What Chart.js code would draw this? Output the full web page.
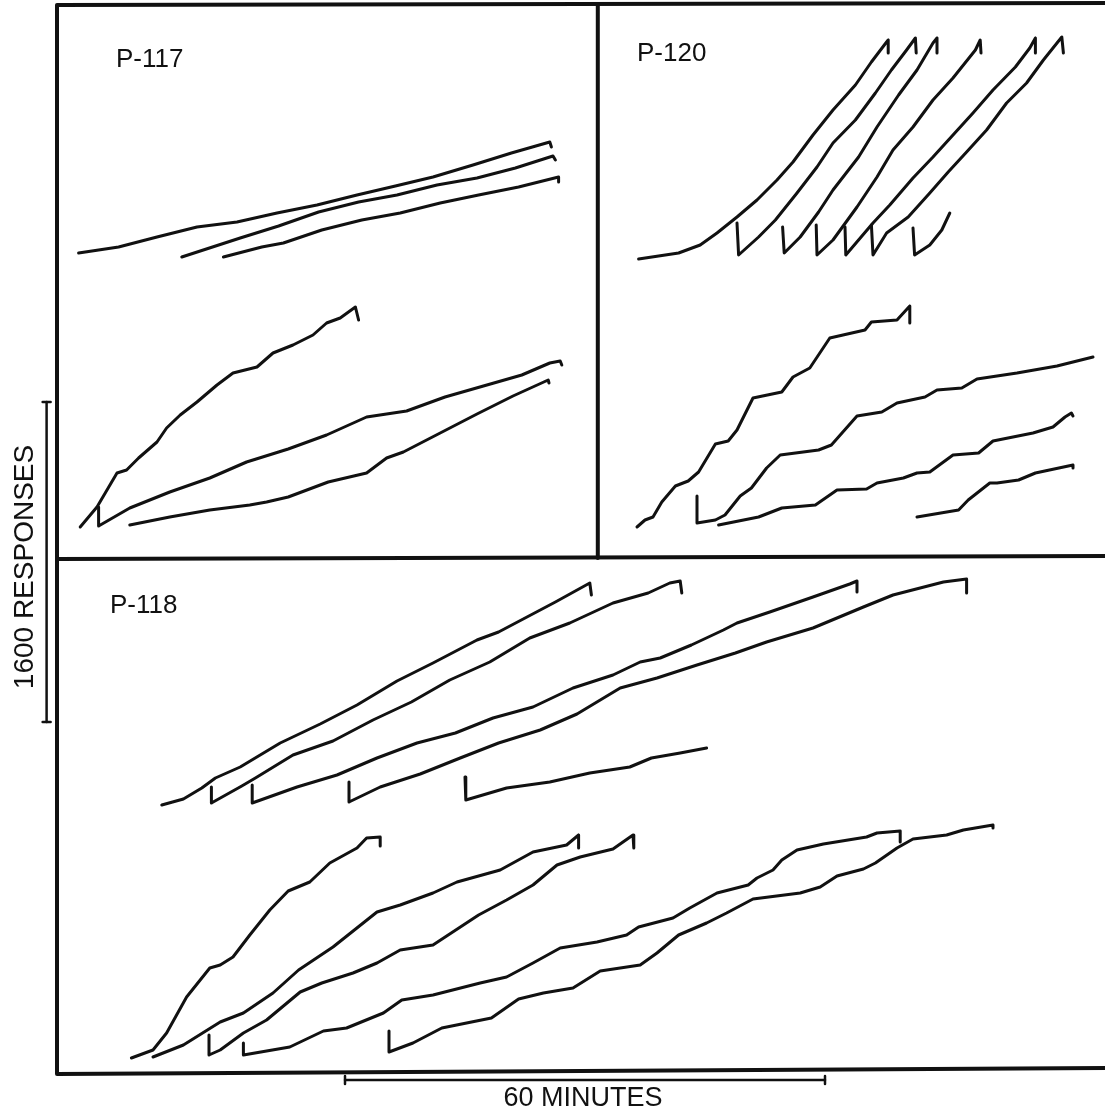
<!DOCTYPE html>
<html>
<head>
<meta charset="utf-8">
<title>Cumulative records P-117, P-120, P-118</title>
<script src="https://cdn.jsdelivr.net/npm/chart.js@4.4.1/dist/chart.umd.min.js"></script>
<style>
  html, body { margin: 0; padding: 0; background: #fff; }
  #wrap { position: relative; width: 1105px; height: 1111px; }
</style>
</head>
<body>
<div id="wrap"><canvas id="myChart"></canvas></div>
<script>
// every point is [minutes, cumulative responses]

// P-117, upper three records
const p117a = [[2.7,4100],[7.7,4130],[12.5,4180],[17.5,4230],[22.5,4255],[27.5,4300],[32.5,4340],[37.5,4390],[42.3,4435],[47.0,4480],[52.0,4540],[56.8,4600],[61.6,4655],[61.8,4630]];
const p117b = [[15.6,4080],[22.9,4175],[27.7,4235],[32.7,4305],[37.7,4355],[42.5,4390],[47.5,4440],[52.5,4475],[57.3,4525],[62.0,4585],[62.3,4565]];
const p117c = [[20.8,4080],[25.6,4130],[28.3,4150],[33.1,4215],[38.1,4265],[42.9,4300],[47.9,4350],[52.7,4390],[57.7,4430],[62.7,4480],[62.7,4455]];
// P-117, lower three records
const p117d = [[2.9,2730],[5.0,2830],[7.5,3000],[8.7,3015],[10.2,3075],[12.5,3155],[13.7,3225],[15.4,3290],[17.5,3355],[20.0,3440],[22.0,3500],[25.0,3530],[27.0,3600],[29.5,3640],[32.0,3690],[33.7,3750],[35.4,3775],[37.3,3830],[37.7,3765]];
const p117e = [[5.2,2830],[5.2,2735],[9.1,2825],[14.1,2905],[19.1,2975],[23.7,3055],[28.9,3120],[33.7,3190],[38.7,3280],[43.7,3310],[48.5,3380],[53.3,3435],[58.1,3490],[61.6,3550],[62.9,3560],[63.1,3540]];
const p117f = [[9.1,2740],[14.1,2780],[19.1,2815],[24.1,2840],[26.2,2855],[28.9,2880],[33.9,2955],[38.7,3000],[41.2,3075],[43.3,3105],[47.9,3200],[52.5,3295],[57.0,3385],[61.4,3465],[61.5,3450]];

// P-120, upper records (one long run cut into segments)
const p120a = [[72.7,4070],[77.7,4100],[80.4,4140],[82.5,4200],[85.0,4280],[87.5,4365],[90.0,4465],[92.0,4555],[94.5,4690],[97.0,4815],[99.8,4940],[101.8,5055],[103.7,5155],[103.9,5165],[103.9,5100]];
const p120b = [[85.0,4250],[85.2,4090],[87.7,4180],[89.8,4265],[92.5,4400],[95.0,4530],[97.0,4650],[99.8,4765],[102.3,4900],[104.3,5015],[106.2,5115],[107.3,5175],[107.4,5100]];
const p120c = [[90.7,4230],[90.9,4100],[92.9,4180],[95.2,4305],[97.0,4415],[100.2,4580],[102.5,4730],[105.2,4890],[107.5,5015],[109.5,5150],[110.0,5175],[110.0,5100]];
const p120d = [[94.9,4240],[95.0,4090],[97.0,4165],[100.0,4330],[102.5,4480],[104.5,4615],[107.0,4730],[109.5,4865],[112.0,4975],[114.8,5115],[115.4,5165],[115.5,5100]];
const p120e = [[98.5,4230],[98.6,4090],[102.0,4250],[104.1,4340],[107.0,4475],[109.5,4580],[112.0,4690],[114.5,4800],[117.0,4915],[119.8,5030],[121.6,5125],[122.3,5175],[122.3,5100]];
const p120f = [[101.8,4240],[102.0,4090],[103.7,4200],[106.4,4280],[109.1,4400],[111.4,4505],[113.7,4605],[116.2,4715],[118.7,4850],[121.2,4950],[123.3,5065],[125.6,5180],[125.8,5100]];
const p120g = [[107.0,4225],[107.2,4090],[109.1,4140],[110.6,4215],[111.6,4300]];
// P-120, lower records
const p120h = [[72.5,2730],[73.5,2765],[74.5,2780],[75.6,2855],[77.3,2935],[78.9,2960],[80.2,3005],[82.3,3145],[83.9,3160],[85.0,3215],[87.0,3375],[90.6,3405],[92.0,3480],[94.1,3525],[96.6,3675],[101.0,3715],[101.8,3755],[105.0,3765],[106.6,3835],[106.6,3750]];
const p120i = [[80.0,2885],[80.0,2750],[82.3,2765],[83.5,2790],[85.4,2885],[86.8,2925],[88.7,3025],[90.4,3090],[95.2,3115],[96.8,3140],[100.0,3285],[103.1,3305],[105.0,3350],[108.5,3380],[110.0,3415],[113.1,3425],[115.0,3470],[120.0,3500],[125.0,3535],[129.5,3580]];
const p120j = [[82.7,2740],[87.7,2780],[90.6,2825],[94.8,2840],[97.5,2915],[101.2,2920],[102.5,2950],[105.8,2975],[107.5,3000],[109.1,3005],[112.0,3090],[115.2,3100],[117.0,3160],[122.0,3200],[124.5,3230],[126.0,3280],[126.8,3300],[127.0,3285]];
const p120k = [[107.5,2780],[112.7,2815],[113.9,2865],[116.6,2950],[117.5,2950],[120.2,2965],[122.3,3000],[127.0,3040],[127.0,3025]];

// P-118, upper records
const p118a = [[13.1,1340],[15.8,1370],[18.1,1425],[19.8,1475],[22.9,1530],[27.9,1650],[32.9,1745],[37.5,1840],[42.5,1960],[47.0,2050],[52.5,2165],[55.2,2205],[62.3,2355],[66.6,2450],[66.8,2390]];
const p118b = [[19.3,1430],[19.3,1350],[23.1,1435],[24.8,1475],[29.5,1590],[34.5,1660],[39.5,1765],[44.3,1855],[49.1,1965],[54.1,2055],[59.1,2175],[64.1,2250],[69.5,2350],[73.9,2400],[76.6,2450],[77.9,2460],[78.1,2400]];
const p118c = [[24.4,1440],[24.4,1350],[30.0,1430],[35.0,1490],[40.0,1575],[45.0,1650],[49.8,1700],[54.5,1775],[59.5,1830],[64.5,1925],[69.5,1990],[72.9,2055],[75.4,2075],[79.3,2140],[83.3,2215],[85.0,2250],[89.1,2305],[94.5,2380],[99.1,2445],[100.0,2460],[100.0,2405]];
const p118d = [[36.5,1455],[36.5,1355],[40.4,1430],[45.4,1495],[50.4,1575],[55.2,1650],[60.4,1715],[65.0,1795],[70.4,1925],[75.0,1975],[80.0,2040],[84.8,2100],[88.7,2155],[94.5,2225],[100.8,2330],[104.5,2390],[110.8,2455],[113.7,2470],[113.7,2400]];
const p118e = [[51.0,1480],[51.1,1365],[56.2,1425],[61.6,1455],[66.6,1500],[71.6,1530],[74.3,1575],[77.9,1600],[81.2,1625]];
// P-118, lower records
const p118f = [[9.3,75],[12.0,115],[13.7,200],[16.2,380],[19.1,525],[20.4,540],[22.0,580],[24.1,690],[26.6,815],[28.9,910],[31.6,955],[34.1,1050],[37.5,1125],[38.7,1175],[40.4,1180],[40.4,1135]];
const p118g = [[12.0,80],[15.8,140],[20.4,255],[23.3,300],[27.0,400],[30.2,515],[34.5,630],[40.0,805],[42.9,840],[47.0,900],[50.0,955],[55.4,1015],[59.5,1105],[63.7,1140],[65.2,1190],[65.2,1125]];
const p118h = [[19.0,190],[19.0,90],[20.4,115],[23.3,200],[26.2,265],[30.4,405],[33.1,450],[37.0,500],[40.0,550],[42.9,615],[47.0,640],[52.7,790],[56.2,865],[59.5,940],[62.5,1040],[65.4,1080],[69.5,1120],[72.0,1190],[72.1,1125]];
const p118i = [[23.3,150],[23.3,90],[29.1,130],[33.3,210],[36.2,225],[40.8,300],[43.1,365],[47.0,390],[52.9,450],[56.2,480],[59.5,550],[62.9,625],[67.5,655],[71.2,690],[72.7,730],[77.0,775],[79.1,825],[82.5,900],[86.4,940],[87.5,975],[89.5,1015],[90.6,1065],[92.5,1115],[95.8,1145],[101.2,1180],[102.5,1200],[105.4,1210],[105.4,1155]];
const p118j = [[41.5,210],[41.5,105],[44.5,150],[48.1,225],[54.3,275],[57.7,370],[60.8,400],[64.5,425],[67.9,510],[72.9,540],[75.0,600],[77.7,690],[81.2,750],[83.7,800],[87.0,870],[92.9,900],[95.4,930],[97.5,985],[100.8,1020],[102.3,1050],[105.0,1125],[107.0,1170],[111.2,1190],[113.3,1215],[117.0,1240],[117.0,1225]];

// frame of the figure (minutes, responses)
const frameOuter = [[131,5350],[0,5340],[0,-5],[131,25]];
const frameMiddle = [[0,2570],[131,2585]];
const frameSplit = [[67.6,5340],[67.6,2575]];

// calibration bars: 60 minutes and 1600 responses
const minutesBar = [36, 96];
const responsesBar = [1755, 3355];

const curves = [
  p117a, p117b, p117c, p117d, p117e, p117f,
  p120a, p120b, p120c, p120d, p120e, p120f, p120g,
  p120h, p120i, p120j, p120k,
  p118a, p118b, p118c, p118d, p118e,
  p118f, p118g, p118h, p118i, p118j
];

const ink = '#111111';
const toPoints = pairs => pairs.map(([x, y]) => ({ x: x, y: y }));

const lineSet = (pairs, width) => ({
  data: toPoints(pairs),
  borderColor: ink,
  borderWidth: width,
  showLine: true,
  pointRadius: 0,
  tension: 0,
  borderCapStyle: 'round',
  borderJoinStyle: 'round',
  clip: false
});

const datasets = [];
curves.forEach(c => datasets.push(lineSet(c, 3)));
datasets.push(lineSet(frameOuter, 4));
datasets.push(lineSet(frameMiddle, 4));
datasets.push(lineSet(frameSplit, 4));

// scale bars with end caps
datasets.push(lineSet([[-1.3, responsesBar[0]], [-1.3, responsesBar[1]]], 2.5));
datasets.push(lineSet([[-1.8, responsesBar[0]], [-0.8, responsesBar[0]]], 2.5));
datasets.push(lineSet([[-1.8, responsesBar[1]], [-0.8, responsesBar[1]]], 2.5));
datasets.push(lineSet([[minutesBar[0], -35], [minutesBar[1], -35]], 2.5));
datasets.push(lineSet([[minutesBar[0], -15], [minutesBar[0], -55]], 2.5));
datasets.push(lineSet([[minutesBar[1], -15], [minutesBar[1], -55]], 2.5));

const panelLabels = [
  { text: 'P-117', x: 116, y: 60 },
  { text: 'P-120', x: 637, y: 54 },
  { text: 'P-118', x: 110, y: 606 }
];

const textPlugin = {
  id: 'texts',
  afterDraw(chart) {
    const ctx = chart.ctx;
    ctx.save();
    ctx.fillStyle = ink;
    ctx.textBaseline = 'middle';
    ctx.textAlign = 'left';
    ctx.font = '26px "Liberation Sans", Arial, sans-serif';
    panelLabels.forEach(l => ctx.fillText(l.text, l.x, l.y));

    ctx.textAlign = 'center';
    ctx.font = '27px "Liberation Sans", Arial, sans-serif';
    ctx.fillText('60 MINUTES', 583, 1099);

    ctx.translate(25, 567);
    ctx.rotate(-Math.PI / 2);
    ctx.font = '28px "Liberation Sans", Arial, sans-serif';
    ctx.fillText('1600 RESPONSES', 0, 0);
    ctx.restore();
  }
};

const ctx = document.getElementById('myChart').getContext('2d');
new Chart(ctx, {
  type: 'scatter',
  data: { datasets: datasets },
  options: {
    responsive: true,
    maintainAspectRatio: false,
    animation: false,
    layout: { padding: 0 },
    plugins: {
      legend: { display: false },
      tooltip: { enabled: false }
    },
    scales: {
      x: { type: 'linear', min: -7.125, max: 131, display: false },
      y: { type: 'linear', min: -190, max: 5365, display: false }
    }
  },
  plugins: [textPlugin]
});
</script>
</body>
</html>
